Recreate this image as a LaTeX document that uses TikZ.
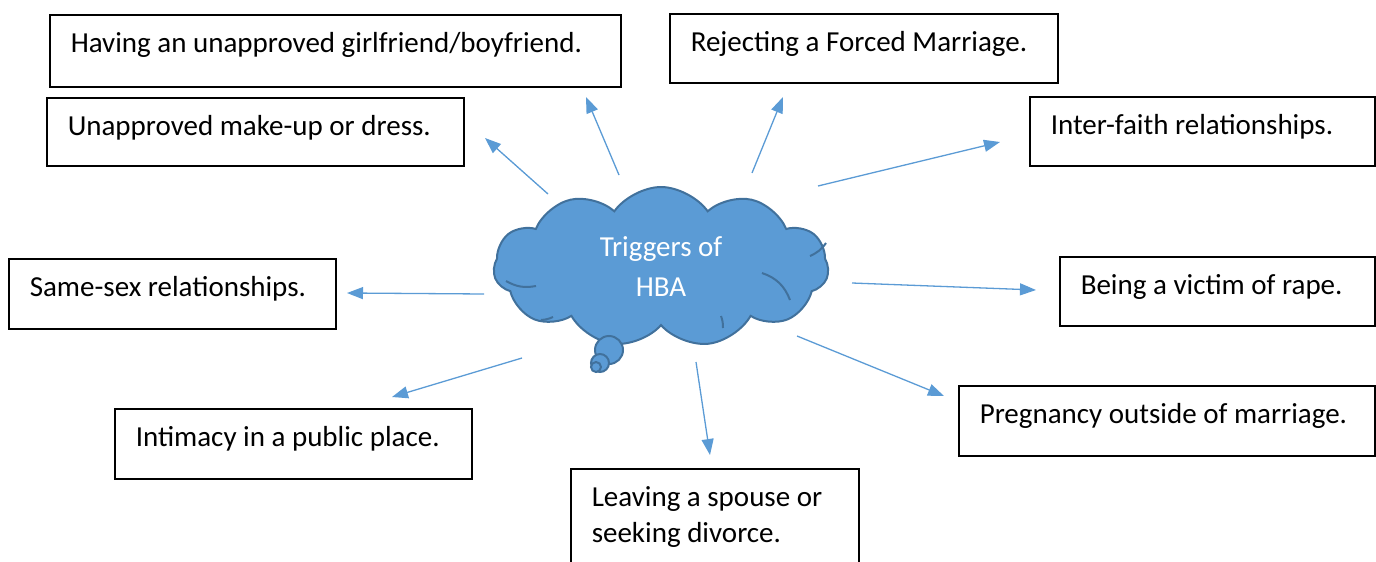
\documentclass[tikz,border=0pt]{standalone}
\usepackage{fontspec}
\setmainfont{Carlito}
\usetikzlibrary{shapes.symbols,arrows.meta}
\definecolor{hbablue}{HTML}{5B9BD5}
\definecolor{hbaedge}{HTML}{41719C}
\tikzset{
  trigger/.style={draw=black, line width=1.5pt, anchor=north west,
    inner xsep=21pt, inner ysep=0pt, text height=38pt,
    font=\fontsize{29}{36}\selectfont},
  push/.style={draw=hbablue, line width=1.3pt, -{Triangle[length=16pt,width=12pt]}},
  bubble/.style={fill=hbablue, draw=hbaedge, line width=2pt},
  crease/.style={draw=hbaedge, line width=2pt},
}

\begin{document}
\begin{tikzpicture}[x=1pt,y=-1pt]
\useasboundingbox (0,0) rectangle (1376,562);

% the cloud in the middle
\node[cloud, cloud puffs=11, cloud puff arc=110, aspect=2.1,
      minimum width=335pt, minimum height=160pt, bubble, text=white,
      align=center, font=\fontsize{29}{40}\selectfont] (hba) at (661,267) {Triggers of\\HBA};
\draw[crease] (506,281) to[bend right=20] (536,286);
\draw[crease] (762,273) to[bend left=25] (790,300);
\draw[crease] (826,243) to[bend left=15] (810,256);
\draw[crease] (721,316) to[bend left=10] (723,328);
\draw[crease] (553,317) to[bend left=10] (541,320);
\draw[bubble] (609,350) circle[radius=14pt];
\draw[bubble] (600,363) circle[radius=9pt];
\draw[bubble] (596,367) circle[radius=5pt];

% the triggers
\node[trigger, text depth=34pt] (girl) at (49,14) {\makebox[529pt][l]{Having an unapproved girlfriend/boyfriend.}};
\node[trigger, text depth=30pt] (dress) at (46,97) {\makebox[375pt][l]{Unapproved make-up or dress.}};
\node[trigger, text depth=31pt] (forced) at (669,13) {\makebox[346pt][l]{Rejecting a Forced Marriage.}};
\node[trigger, text depth=31pt] (faith) at (1029,96) {\makebox[303pt][l]{Inter-faith relationships.}};
\node[trigger, text depth=32pt] (same) at (8,258) {\makebox[285pt][l]{Same-sex relationships.}};
\node[trigger, text depth=31pt] (rape) at (1059,256) {\makebox[273pt][l]{Being a victim of rape.}};
\node[trigger, text depth=32pt] (public) at (114,408) {\makebox[315pt][l]{Intimacy in a public place.}};
\node[trigger, text depth=32pt] (pregnant) at (958,385) {\makebox[374pt][l]{Pregnancy outside of marriage.}};
\node[trigger, text depth=120pt] (divorce) at (570,468)
  {\vtop{\hbox to 246pt{Leaving a spouse or\hss}\hbox to 246pt{seeking divorce.\hss}}};

% arrow ends
\coordinate (dressfrom) at (548,194);   \coordinate (dressto) at (485,138);
\coordinate (girlfrom) at (619,175);    \coordinate (girlto) at (586,97);
\coordinate (forcedfrom) at (752,173);  \coordinate (forcedto) at (783,97);
\coordinate (faithfrom) at (818,186);   \coordinate (faithto) at (1000,142);
\coordinate (samefrom) at (484,294);    \coordinate (sameto) at (347,293);
\coordinate (rapefrom) at (852,283);    \coordinate (rapeto) at (1036,290);
\coordinate (publicfrom) at (522,358);  \coordinate (publicto) at (392,397);
\coordinate (divorcefrom) at (696,362); \coordinate (divorceto) at (710,455);
\coordinate (pregfrom) at (797,336);    \coordinate (pregto) at (944,396);

\draw[push] (dressfrom) -- (dressto);
\draw[push] (girlfrom) -- (girlto);
\draw[push] (forcedfrom) -- (forcedto);
\draw[push] (faithfrom) -- (faithto);
\draw[push] (samefrom) -- (sameto);
\draw[push] (rapefrom) -- (rapeto);
\draw[push] (publicfrom) -- (publicto);
\draw[push] (divorcefrom) -- (divorceto);
\draw[push] (pregfrom) -- (pregto);
\end{tikzpicture}
\end{document}
